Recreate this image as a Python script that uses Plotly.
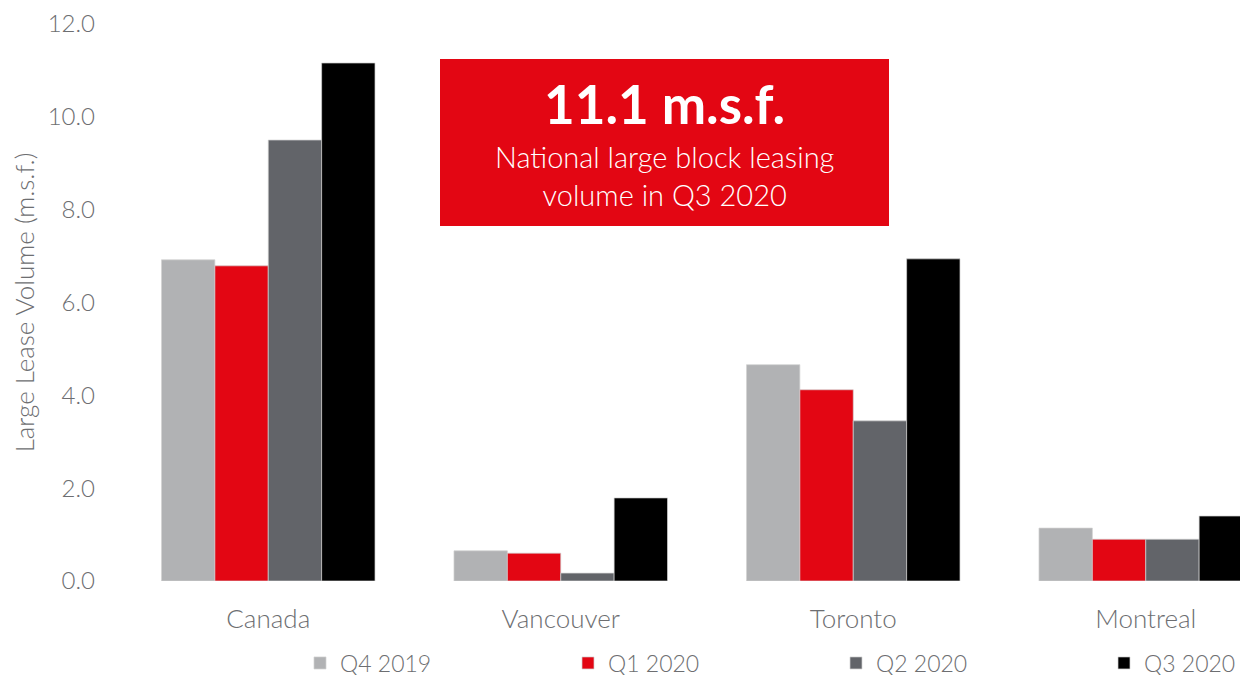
import plotly.graph_objects as go

categories = ["Canada", "Vancouver", "Toronto", "Montreal"]
series_names = ["Q4 2019", "Q1 2020", "Q2 2020", "Q3 2020"]
q4_2019 = [6.92, 0.65, 4.66, 1.14]
q1_2020 = [6.79, 0.60, 4.12, 0.90]
q2_2020 = [9.50, 0.17, 3.45, 0.90]
q3_2020 = [11.16, 1.79, 6.94, 1.40]
series_values = [q4_2019, q1_2020, q2_2020, q3_2020]
colors = ["#b1b2b4", "#e30613", "#626469", "#000000"]
y_ticks = [0, 2, 4, 6, 8, 10, 12]
y_tick_labels = ["0.0", "2.0", "4.0", "6.0", "8.0", "10.0", "12.0"]

FONT = "Source Sans Pro, Lato, Open Sans, sans-serif"
TXT = "#6d6e71"

OFF = 8  # page body margin
W, H = 1248, 675
ML, MR, MT, MB = 122 - OFF, 0, 24 - OFF, H - (581 - OFF)
PW, PH = W - ML - MR, H - MT - MB


def px_x(x):
    return (x - OFF - ML) / PW


def px_y(y):
    return (H - MB - (y - OFF)) / PH


legend_ids = ["legend", "legend2", "legend3", "legend4"]
legend_px = [300, 568, 836, 1104]

fig = go.Figure()
for name, vals, col, lid in zip(series_names, series_values, colors, legend_ids):
    fig.add_trace(go.Bar(
        x=categories, y=vals, name=name, legend=lid,
        marker=dict(color=col, line=dict(color="rgba(210,210,210,0.7)", width=1)),
    ))

fig.add_shape(type="rect", xref="paper", yref="paper",
              x0=px_x(440), x1=px_x(889), y0=px_y(226), y1=px_y(59),
              fillcolor="#e30613", line=dict(width=0), layer="above")
fig.add_annotation(xref="paper", yref="paper", x=px_x(664), y=px_y(104),
                   text="<b>11.1 m.s.f.</b>", showarrow=False,
                   font=dict(family=FONT, size=53, color="white"),
                   xanchor="center", yanchor="middle")
fig.add_annotation(xref="paper", yref="paper", x=px_x(664), y=px_y(176),
                   text="National large block leasing<br>volume in Q3 2020", showarrow=False,
                   font=dict(family=FONT, size=29, color="white", weight=300),
                   xanchor="center", yanchor="middle")

legend_common = dict(orientation="h", xanchor="left", y=px_y(663), yanchor="middle",
                     font=dict(family=FONT, size=23, color=TXT, weight=300),
                     bgcolor="rgba(0,0,0,0)")
legends = {lid: dict(x=px_x(lx), **legend_common) for lid, lx in zip(legend_ids, legend_px)}

fig.update_layout(
    width=W, height=H,
    margin=dict(l=ML, r=MR, t=MT, b=MB, autoexpand=False),
    paper_bgcolor="white", plot_bgcolor="white",
    barmode="group", bargap=0.27, bargroupgap=0,
    font=dict(family=FONT, color=TXT, size=22, weight=300),
    showlegend=True,
    xaxis=dict(type="category", range=[-0.5, -0.5 + PW / 292.5],
               showgrid=False, zeroline=False, showline=False,
               ticks="", ticklabelstandoff=20,
               tickfont=dict(family=FONT, size=26, color=TXT, weight=300)),
    yaxis=dict(range=[0, 12], tickvals=y_ticks, ticktext=y_tick_labels,
               showgrid=False, zeroline=False, showline=False,
               ticks="", ticklabelstandoff=26,
               tickfont=dict(family=FONT, size=24, color=TXT, weight=300),
               title=dict(text="Large Lease Volume (m.s.f.)", standoff=13,
                          font=dict(family=FONT, size=26, color=TXT, weight=300))),
    **legends,
)

fig.write_html("out.html")
